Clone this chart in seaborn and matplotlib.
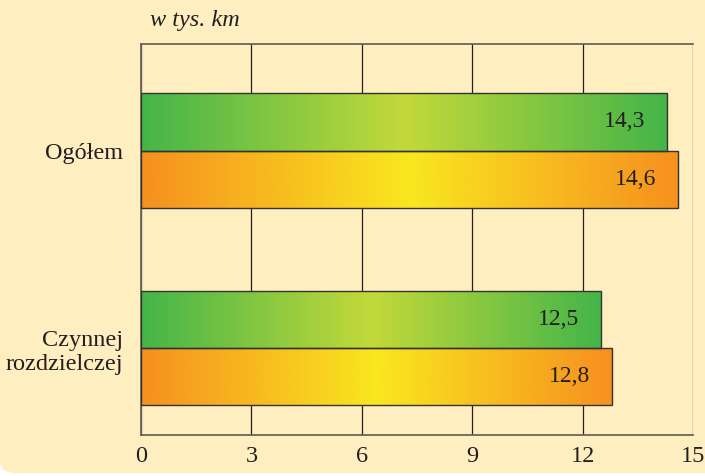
import pandas as pd
import numpy as np
import matplotlib
matplotlib.use("Agg")
import matplotlib.pyplot as plt
from matplotlib.colors import LinearSegmentedColormap
from matplotlib.patches import FancyBboxPatch
import seaborn as sns

categories = ["Ogółem", "Czynnej\nrozdzielczej"]
series = ["seria 1", "seria 2"]
values_1 = [14.3, 12.5]
values_2 = [14.6, 12.8]
tick_labels = ["0", "3", "6", "9", "12", "15"]

bg = "#feeec0"
grad_colors = {
    "seria 1": ("#44b549", "#c3d93a"),
    "seria 2": ("#f6901f", "#f9e71f"),
}

df = pd.DataFrame({
    "kategoria": categories * 2,
    "wartosc": values_1 + values_2,
    "seria": [series[0]] * 2 + [series[1]] * 2,
})

sns.set_style("white")
plt.rcParams["font.family"] = "serif"
plt.rcParams["font.serif"] = ["Liberation Serif"]

fig = plt.figure(figsize=(7.05, 4.76), dpi=100)
fig.patch.set_facecolor("white")
fig.patches.append(FancyBboxPatch((0.0, 0.006), 3, 3, boxstyle="round,pad=0,rounding_size=0.025",
                                  transform=fig.transFigure, facecolor=bg, edgecolor="none", zorder=-10))
ax = fig.add_axes([0.2, 0.086, 0.783, 0.822])
ax.set_facecolor(bg)

sns.barplot(data=df, y="kategoria", x="wartosc", hue="seria", orient="h",
            width=0.58, dodge=True, ax=ax, legend=False, edgecolor="#333333", linewidth=1.0)

# gradient fill clipped to each bar
for cont, s in zip(ax.containers, series):
    c_end, c_mid = grad_colors[s]
    cmap = LinearSegmentedColormap.from_list(s, [c_end, c_mid, c_end])
    grad = np.linspace(0, 1, 256).reshape(1, -1)
    for bar in cont:
        x0, y0 = bar.get_x(), bar.get_y()
        w, h = bar.get_width(), bar.get_height()
        bar.set_facecolor("none")
        bar.set_zorder(3)
        im = ax.imshow(grad, cmap=cmap, aspect="auto", extent=[x0, x0 + w, y0 + h, y0],
                       zorder=2, interpolation="bicubic")
        im.set_clip_path(bar)
        ax.text(x0 + w - 0.6, y0 + h / 2, f"{w:.1f}".replace(".", ","),
                ha="right", va="center", fontsize=17, color="#231f20", zorder=4)

ax.set_xlim(0, 15)
ax.set_ylim(1.44, -0.54)
ax.set_xticks(range(0, 16, 3))
ax.set_xticklabels(tick_labels)
ax.grid(axis="x", color="#231f20", linewidth=0.9, zorder=0)
ax.set_axisbelow(True)
ax.tick_params(axis="both", length=0, labelsize=17.5, colors="#231f20")
ax.tick_params(axis="x", pad=8)
ax.tick_params(axis="y", pad=13)
for lbl in ax.get_yticklabels():
    lbl.set_horizontalalignment("right")
    lbl.set_multialignment("right")
ax.set_xlabel("")
ax.set_ylabel("")
for side, sp in ax.spines.items():
    sp.set_visible(side in ("left", "bottom", "top"))
    sp.set_color("#6b6558")
    sp.set_linewidth(1.3)

fig.text(0.213, 0.957, "w tys. km", fontsize=17.5, style="italic", color="#231f20", ha="left", va="center")

plt.savefig("out.png", dpi=100, facecolor=fig.get_facecolor())
